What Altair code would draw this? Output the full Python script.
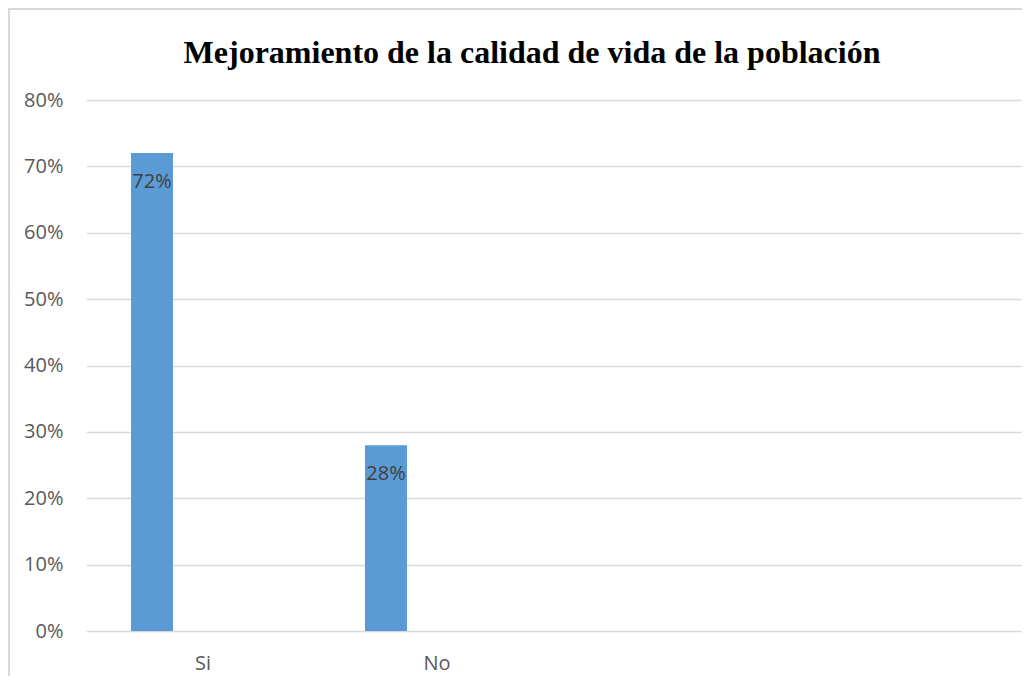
import altair as alt
import pandas as pd

categories = ["Si", "No", " ", "  "]
series_names = ["Serie 1", "Serie 2", "Serie 3"]
bar_categories = ["Si", "No"]
bar_values = [0.72, 0.28]
y_ticks = [0, 0.1, 0.2, 0.3, 0.4, 0.5, 0.6, 0.7, 0.8]
title_text = "Mejoramiento de la calidad de vida de la población"

df = pd.DataFrame({
    "categoria": bar_categories,
    "serie": [series_names[0]] * len(bar_categories),
    "valor": bar_values,
})

x_enc = alt.X(
    "categoria:N",
    sort=categories,
    scale=alt.Scale(domain=categories, paddingInner=0, paddingOuter=0),
    axis=alt.Axis(
        title=None, labelAngle=0, domain=False, ticks=False,
        labelFont="Open Sans", labelFontSize=20, labelColor="#595959",
        labelPadding=22,
    ),
)
xoff_enc = alt.XOffset(
    "serie:N",
    scale=alt.Scale(domain=series_names, paddingInner=0.1765, paddingOuter=0.882),
)
y_enc = alt.Y(
    "valor:Q",
    scale=alt.Scale(domain=[0, 0.8], nice=False),
    axis=alt.Axis(
        title=None, format=".0%", values=y_ticks, domain=False, ticks=False,
        labelFont="Open Sans", labelFontSize=20, labelColor="#595959",
        labelPadding=23, gridColor="#d9d9d9", gridWidth=1.5,
    ),
)

base = alt.Chart(df)
bars = base.mark_bar(color="#5b9bd5").encode(x=x_enc, xOffset=xoff_enc, y=y_enc)
labels = base.mark_text(
    font="Open Sans", fontSize=20, color="#404040", baseline="alphabetic", dy=35
).encode(x=x_enc, xOffset=xoff_enc, y=y_enc, text=alt.Text("valor:Q", format=".0%"))

border_left = base.mark_rule(color="#d9d9d9", strokeWidth=2).encode(
    x=alt.value(-77), y=alt.value(-91), y2=alt.value(580)
)
border_top = base.mark_rule(color="#d9d9d9", strokeWidth=2).encode(
    x=alt.value(-78), x2=alt.value(936), y=alt.value(-91)
)

title_df = pd.DataFrame({"t": [title_text]})
title_mark = alt.Chart(title_df).mark_text(
    font="Liberation Serif", fontSize=32, fontWeight="bold", color="#000000",
    align="center", baseline="alphabetic",
).encode(text="t:N", x=alt.value(446), y=alt.value(-37))

chart = alt.layer(border_left, border_top, bars, labels, title_mark).properties(
    width=936,
    height=531,
    autosize=alt.AutoSizeParams(type="none"),
    padding={"left": 78, "top": 92, "right": 0, "bottom": 45},
).configure_view(stroke=None)

chart.save("out.html", embed_options={"renderer": "svg", "actions": False})
